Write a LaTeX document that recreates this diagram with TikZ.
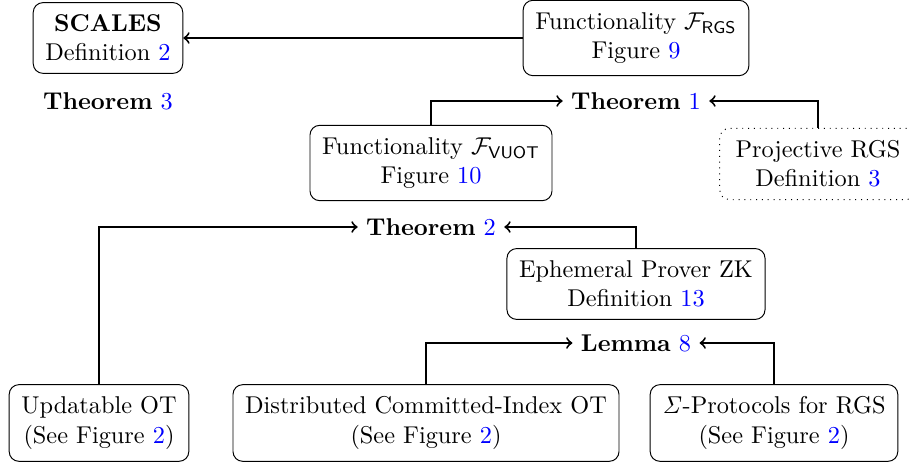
\documentclass[tikz,border=0pt]{standalone}
\usepackage{amsmath}
\newcommand{\refnum}[1]{\textcolor{blue}{#1}}
\begin{document}
\begin{tikzpicture}[x=0.4115pt,y=-0.4115pt]

    \tikzset{
      box/.style={
        draw,
        rounded corners=4pt,
        align=center,
        inner sep=5pt,
      },
      dotbox/.style={
        box,
        dotted,
        inner xsep=6.5pt,
      },
      res/.style={
        inner sep=3.3pt,
      },
      dep/.style={
        thick,
        ->,
      },
    }
    \useasboundingbox (0,0) rectangle (910,465);
	\node[box] (scales) at (108,38) {\textbf{SCALES}\\Definition \refnum{2}};
	\node[box] (frgs) at (636,38) {Functionality $\mathcal{F}_{\textsf{RGS}}$\\Figure \refnum{9}};
	\node[res] (thm3) at (108,101) {\textbf{Theorem} \refnum{3}};
	\node[res] (thm1) at (636,101) {\textbf{Theorem} \refnum{1}};
	\node[box] (vuot) at (431,163) {Functionality $\mathcal{F}_{\textsf{VUOT}}$\\Figure \refnum{10}};
	\node[dotbox] (proj) at (818,164) {Projective RGS\\Definition \refnum{3}};
	\node[res] (thm2) at (431,227) {\textbf{Theorem} \refnum{2}};
	\node[box] (eph) at (636,284) {Ephemeral Prover ZK\\Definition \refnum{13}};
	\node[res] (lem8) at (636,343) {\textbf{Lemma} \refnum{8}};
	\node[box] (uot) at (99,423) {Updatable OT\\(See Figure \refnum{2})};
	\node[box] (dci) at (426,423) {Distributed Committed-Index OT\\(See Figure \refnum{2})};
	\node[box] (sig) at (774,423) {$\mathit{\Sigma}$-Protocols for RGS\\(See Figure \refnum{2})};

	\draw[dep] (frgs.west) -- (scales.east);
	\draw[dep] (vuot.north) |- (thm1.west);
	\draw[dep] (proj.north) |- (thm1.east);
	\draw[dep] (uot.north) |- (thm2.west);
	\draw[dep] (eph.north) |- (thm2.east);
	\draw[dep] (dci.north) |- (lem8.west);
	\draw[dep] (sig.north) |- (lem8.east);

\end{tikzpicture}
\end{document}
